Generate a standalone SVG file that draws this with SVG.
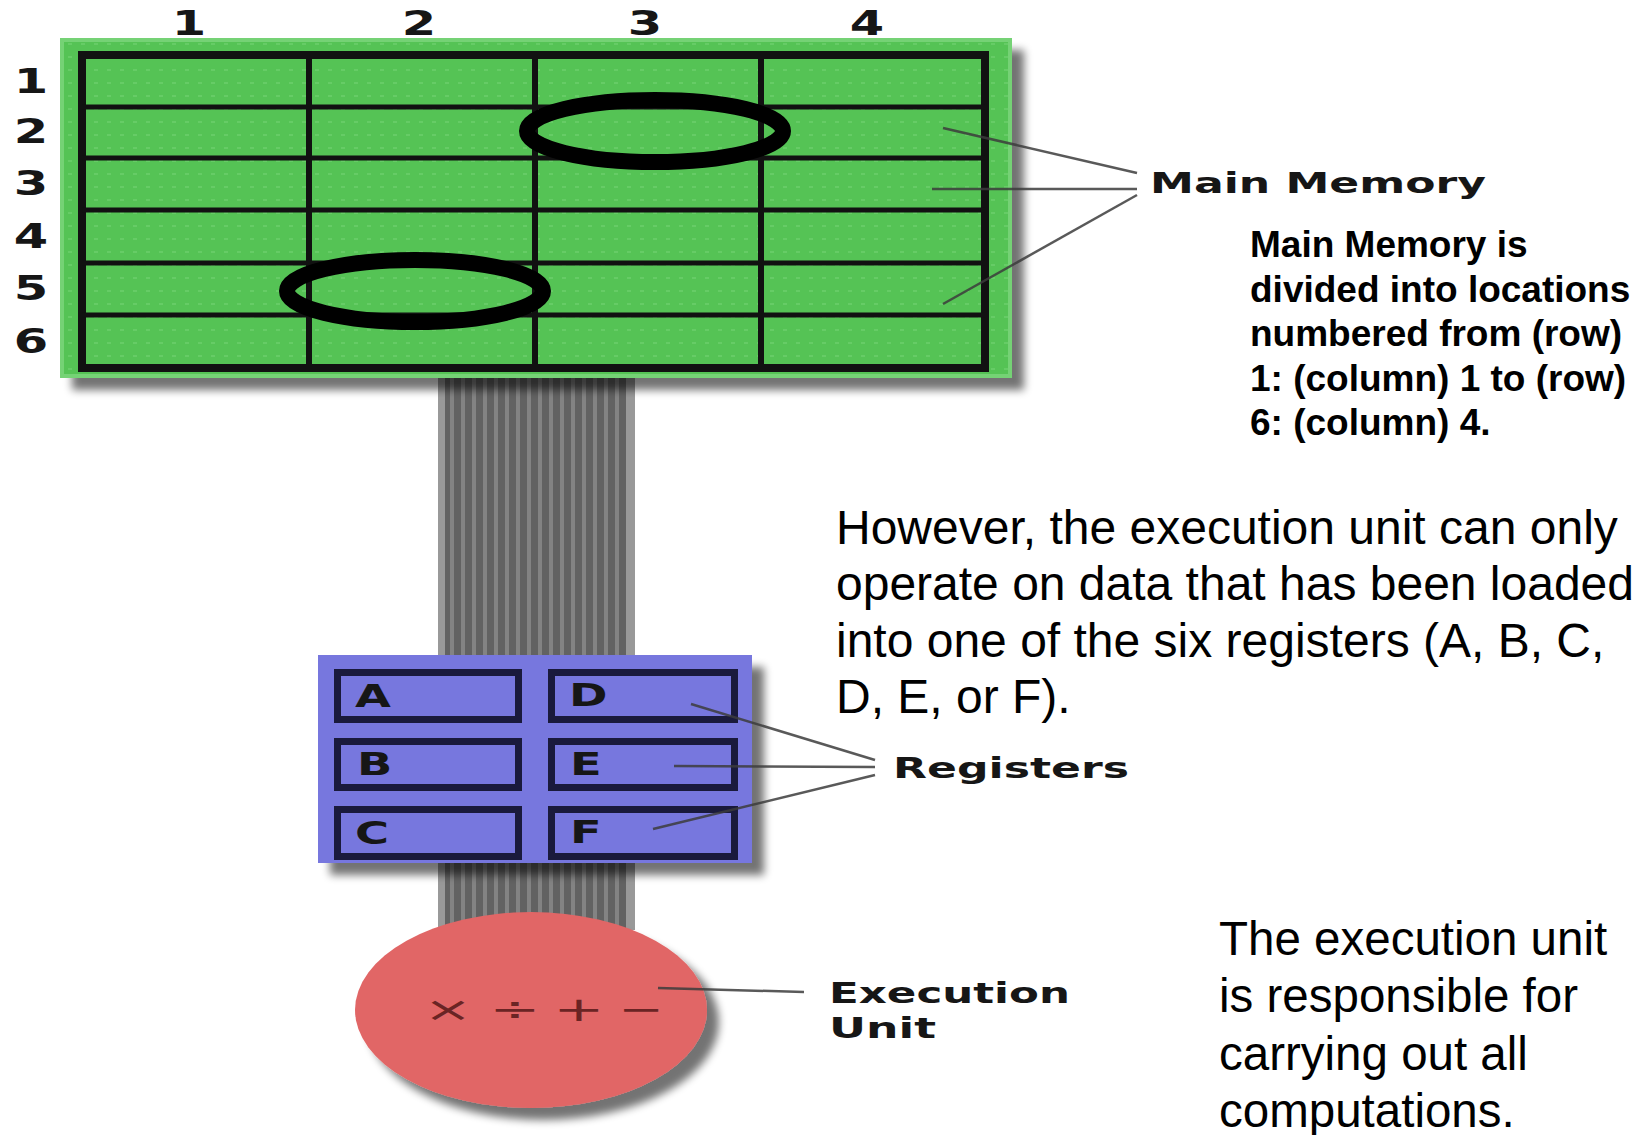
<svg xmlns="http://www.w3.org/2000/svg" width="1647" height="1135" viewBox="0 0 1647 1135">
<style>
.lbl{font-family:"DejaVu Sans",Verdana,sans-serif;font-weight:bold;fill:#161616}
.para{font-family:"Liberation Sans",Arial,sans-serif;fill:#000}
.bold{font-weight:bold}
.grid{stroke:#111;fill:none}
.conn{stroke:#3c3c3c;stroke-width:2.5;fill:none;stroke-opacity:0.85}
.reg{fill:none;stroke:#1a1a3c;stroke-width:7}
.op{font-family:"DejaVu Sans",sans-serif;fill:#6a2424;font-size:34px}
</style>
<defs>
<pattern id="dots" width="13" height="13" patternUnits="userSpaceOnUse">
<rect width="13" height="13" fill="#55c355"/>
<rect x="3" y="4" width="4" height="2" fill="#66cc66"/>
</pattern>
<pattern id="wires" width="11" height="20" patternUnits="userSpaceOnUse" x="444">
<rect width="11" height="20" fill="#626262"/>
<rect x="6" width="4" height="20" fill="#838383"/>
</pattern>
<filter id="sh" x="-10%" y="-10%" width="130%" height="130%">
<feGaussianBlur in="SourceAlpha" stdDeviation="4"/>
<feOffset dx="12" dy="12" result="o"/>
<feComponentTransfer><feFuncA type="linear" slope="0.55"/></feComponentTransfer>
<feMerge><feMergeNode/><feMergeNode in="SourceGraphic"/></feMerge>
</filter>
</defs>
<rect width="1647" height="1135" fill="#fff"/>

<g id="bus">
<rect x="438" y="370" width="197" height="295" fill="url(#wires)"/>
<rect x="438" y="370" width="7" height="295" fill="#999"/>
<rect x="626" y="370" width="9" height="295" fill="#999"/>
<rect x="438" y="855" width="197" height="75" fill="url(#wires)"/>
<rect x="438" y="855" width="7" height="75" fill="#999"/>
<rect x="626" y="855" width="9" height="75" fill="#999"/>
</g>

<g id="main-memory">
<rect x="62" y="40" width="948" height="336" fill="url(#dots)" stroke="#74d274" stroke-width="4" filter="url(#sh)"/>
<rect x="82" y="55" width="903" height="313" class="grid" stroke-width="8" stroke="#142514"/>
<g class="grid" stroke-width="5">
<line x1="82" y1="107" x2="985" y2="107"/>
<line x1="82" y1="158" x2="985" y2="158"/>
<line x1="82" y1="210" x2="985" y2="210"/>
<line x1="82" y1="263" x2="985" y2="263"/>
<line x1="82" y1="315" x2="985" y2="315"/>
</g>
<g class="grid" stroke-width="6">
<line x1="309" y1="55" x2="309" y2="368"/>
<line x1="535" y1="55" x2="535" y2="368"/>
<line x1="761" y1="55" x2="761" y2="368"/>
</g>
<ellipse cx="655" cy="131" rx="128" ry="31" fill="none" stroke="#000" stroke-width="16"/>
<ellipse cx="415" cy="291" rx="128" ry="31" fill="none" stroke="#000" stroke-width="16"/>
<g class="lbl" font-size="33" text-anchor="middle">
<text transform="translate(189,35) scale(1.5,1)">1</text>
<text transform="translate(419,35) scale(1.5,1)">2</text>
<text transform="translate(645,35) scale(1.5,1)">3</text>
<text transform="translate(867,35) scale(1.5,1)">4</text>
<text transform="translate(31,93) scale(1.5,1)">1</text>
<text transform="translate(31,143) scale(1.5,1)">2</text>
<text transform="translate(31,195) scale(1.5,1)">3</text>
<text transform="translate(31,248) scale(1.5,1)">4</text>
<text transform="translate(31,300) scale(1.5,1)">5</text>
<text transform="translate(31,353) scale(1.5,1)">6</text>
</g>
</g>

<g id="registers">
<rect x="318" y="655" width="434" height="208" fill="#7777de" filter="url(#sh)"/>
<rect x="337.5" y="672.5" width="181" height="47" class="reg"/>
<rect x="551.5" y="672.5" width="183" height="47" class="reg"/>
<rect x="337.5" y="741.5" width="181" height="46" class="reg"/>
<rect x="551.5" y="741.5" width="183" height="46" class="reg"/>
<rect x="337.5" y="809.5" width="181" height="47" class="reg"/>
<rect x="551.5" y="809.5" width="183" height="47" class="reg"/>
<g class="lbl" font-size="32">
<text transform="translate(355,707) scale(1.45,1)">A</text>
<text transform="translate(357,775) scale(1.45,1)">B</text>
<text transform="translate(355,844) scale(1.45,1)">C</text>
<text transform="translate(569,706) scale(1.45,1)">D</text>
<text transform="translate(570,775) scale(1.45,1)">E</text>
<text transform="translate(570,843) scale(1.45,1)">F</text>
</g>
</g>

<g id="execution-unit">
<ellipse cx="531" cy="1010" rx="176" ry="98" fill="#e16666" filter="url(#sh)"/>
<text class="op" transform="translate(448,1021) scale(1.7,1)" text-anchor="middle">×</text>
<text class="op" transform="translate(515,1021) scale(1.8,1)" text-anchor="middle">÷</text>
<text class="op" transform="translate(579,1021) scale(1.8,1)" text-anchor="middle" fill="#2e0c0c">+</text>
<text class="op" transform="translate(641,1021) scale(1.6,1)" text-anchor="middle">−</text>
</g>

<g id="connectors">
<line class="conn" x1="943" y1="128" x2="1137" y2="173"/>
<line class="conn" x1="932" y1="189" x2="1137" y2="189"/>
<line class="conn" x1="943" y1="304" x2="1137" y2="195"/>
<line class="conn" x1="691" y1="704" x2="875" y2="760"/>
<line class="conn" x1="674" y1="766" x2="875" y2="767"/>
<line class="conn" x1="653" y1="829" x2="875" y2="775"/>
<line class="conn" x1="658" y1="988" x2="804" y2="992"/>
</g>

<g id="label-main-memory"><text class="lbl" x="1150" y="193" font-size="29" textLength="336" lengthAdjust="spacingAndGlyphs">Main Memory</text></g>
<g id="label-registers"><text class="lbl" x="893" y="778" font-size="29" textLength="236" lengthAdjust="spacingAndGlyphs">Registers</text></g>
<g id="label-execution-unit">
<text class="lbl" x="829" y="1003" font-size="29" textLength="241" lengthAdjust="spacingAndGlyphs">Execution</text>
<text class="lbl" x="829" y="1038" font-size="29" textLength="107" lengthAdjust="spacingAndGlyphs">Unit</text>
</g>

<g id="text-memory" class="para bold" font-size="37">
<text x="1250" y="257">Main Memory is</text>
<text x="1250" y="301.5">divided into locations</text>
<text x="1250" y="346">numbered from (row)</text>
<text x="1250" y="390.5">1: (column) 1 to (row)</text>
<text x="1250" y="435">6: (column) 4.</text>
</g>
<g id="text-registers" class="para" font-size="48">
<text x="836" y="544">However, the execution unit can only</text>
<text x="836" y="600">operate on data that has been loaded</text>
<text x="836" y="657">into one of the six registers (A, B, C,</text>
<text x="836" y="713">D, E, or F).</text>
</g>
<g id="text-execution" class="para" font-size="47.5">
<text x="1219" y="955">The execution unit</text>
<text x="1219" y="1012">is responsible for</text>
<text x="1219" y="1070">carrying out all</text>
<text x="1219" y="1127">computations.</text>
</g>
</svg>
